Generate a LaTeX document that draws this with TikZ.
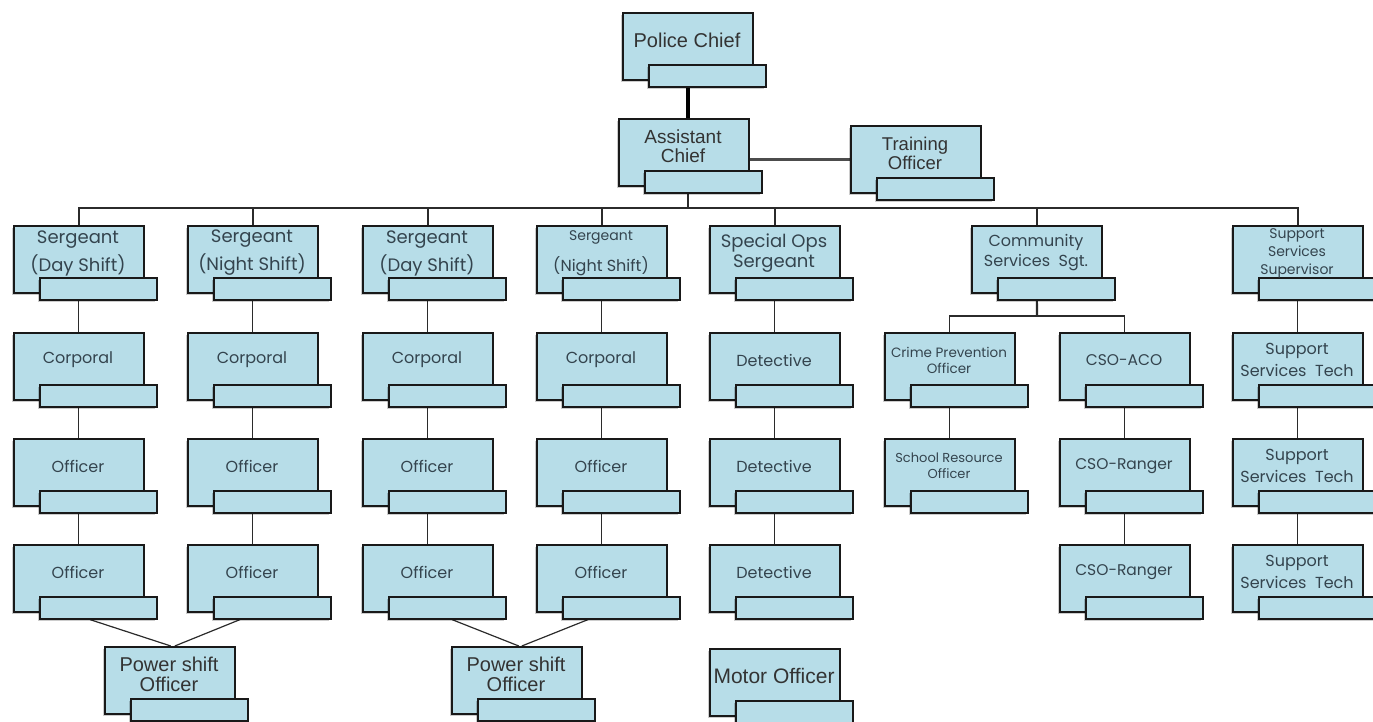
\documentclass[tikz,border=0pt]{standalone}
\usepackage{fontspec}
\newfontfamily\arialf{Liberation Sans}
\newfontfamily\popf{Poppins}
\usetikzlibrary{calc,backgrounds,shadows}
\definecolor{boxfill}{HTML}{B7DDE8}
\definecolor{txtc}{HTML}{34444E}
\definecolor{linec}{HTML}{2B2B2B}
\tikzset{
  mainbox/.style={draw=black!90, line width=1.6pt, fill=boxfill, minimum width=130pt, minimum height=67pt, inner sep=0pt,
    drop shadow={shadow xshift=-1.5pt, shadow yshift=-2pt, fill=black, opacity=0.2}},
  subbox/.style={draw=black!90, line width=1.6pt, fill=boxfill, minimum width=117pt, minimum height=22pt, inner sep=0pt,
    drop shadow={shadow xshift=-1.5pt, shadow yshift=-2pt, fill=black, opacity=0.2}},
  ar/.style 2 args={font={\arialf\fontsize{#1}{#2}\selectfont}, align=center, text=black!80, inner sep=0pt},
  pp/.style 2 args={font={\popf\fontsize{#1}{#2}\selectfont}, align=center, text=txtc, inner sep=0pt},
  conn/.style={draw=linec, line width=1.2pt},
  busline/.style={draw=linec, line width=2.2pt},
  chiefline/.style={draw=black, line width=3.5pt},
  sideline/.style={draw=black!70, line width=2.5pt},
}
\newcommand\obox[5]{%
  \node[mainbox, anchor=north west] (#1) at (#2,#3) {};
  \node[subbox, anchor=north west] (#1s) at ($(#1.north west)+(26,52)$) {};
  \node[#4] (#1t) at ($(#1.north west)+(65,28)$) {#5};
}
\begin{document}
\begin{tikzpicture}[x=1pt,y=-1pt]
\useasboundingbox (0,0) rectangle (1373,722);
% top
\obox{pc}{622}{12}{ar={20}{19}}{Police Chief}
\obox{ac}{618}{118}{ar={19}{19}}{Assistant\\Chief}
\obox{to}{850}{125}{ar={18.5}{19}}{Training\\Officer}
% row 1
\obox{sa}{13}{225}{pp={18}{28}}{Sergeant\\(Day Shift)}
\obox{sb}{187}{225}{pp={18}{28}}{Sergeant\\(Night Shift)}
\obox{sc}{362}{225}{pp={18}{28}}{Sergeant\\(Day Shift)}
\obox{sd}{536}{225}{pp={16}{31}}{{\fontsize{14}{14}\selectfont Sergeant}\\(Night Shift)}
\obox{so}{709}{225}{pp={18}{20}}{Special Ops\\Sergeant}
\obox{cs}{971}{225}{pp={16}{20}}{Community\\Services\ \ Sgt.}
\obox{ss}{1232}{225}{pp={14}{18}}{Support\\Services\\Supervisor}
% row 2
\obox{ca}{13}{332}{pp={16}{19}}{Corporal}
\obox{cb}{187}{332}{pp={16}{19}}{Corporal}
\obox{cc}{362}{332}{pp={16}{19}}{Corporal}
\obox{cd}{536}{332}{pp={16}{19}}{Corporal}
\obox{da}{709}{332}{pp={16}{19}}{Detective}
\obox{cp}{884}{332}{pp={13.5}{16}}{Crime Prevention\\Officer}
\obox{aco}{1059}{332}{pp={15.5}{19}}{CSO-ACO}
\obox{ta}{1232}{332}{pp={16}{22}}{Support\\Services\ \ Tech}
% row 3
\obox{oa}{13}{438}{pp={16}{19}}{Officer}
\obox{ob}{187}{438}{pp={16}{19}}{Officer}
\obox{oc}{362}{438}{pp={16}{19}}{Officer}
\obox{od}{536}{438}{pp={16}{19}}{Officer}
\obox{db}{709}{438}{pp={16}{19}}{Detective}
\obox{sro}{884}{438}{pp={13}{16}}{School Resource\\Officer}
\obox{ra}{1059}{438}{pp={15.5}{19}}{CSO-Ranger}
\obox{tb}{1232}{438}{pp={16}{22}}{Support\\Services\ \ Tech}
% row 4
\obox{pa}{13}{544}{pp={16}{19}}{Officer}
\obox{pb}{187}{544}{pp={16}{19}}{Officer}
\obox{pcc}{362}{544}{pp={16}{19}}{Officer}
\obox{pd}{536}{544}{pp={16}{19}}{Officer}
\obox{dc}{709}{544}{pp={16}{19}}{Detective}
\obox{rb}{1059}{544}{pp={15.5}{19}}{CSO-Ranger}
\obox{tc}{1232}{544}{pp={16}{22}}{Support\\Services\ \ Tech}
% row 5
\obox{psa}{104}{646}{ar={20}{20}}{Power shift\\Officer}
\obox{psb}{451}{646}{ar={20}{20}}{Power shift\\Officer}
\obox{mo}{709}{648}{ar={21}{20}}{Motor Officer}
% connectors
\coordinate (bus) at (688,208);
\coordinate (csbus) at (1037,316);
\begin{scope}[on background layer]
  \draw[chiefline] (pc.south) -- (pc.south |- ac.north);
  \draw[sideline] (to.west) -- (to.west -| ac.east);
  \draw[busline] (bus) -- (bus |- ac.south);
  \foreach \s in {sa,sb,sc,sd,so,cs,ss} \draw[busline] (bus) -| (\s.north);
  \foreach \a/\b in {sa/ca,ca/oa,oa/pa, sb/cb,cb/ob,ob/pb, sc/cc,cc/oc,oc/pcc, sd/cd,cd/od,od/pd,
                     so/da,da/db,db/dc, cp/sro, aco/ra,ra/rb, ss/ta,ta/tb,tb/tc}
    \draw[conn] (\a.south) -- (\b.north);
  \draw[busline] (cs.south) -- (csbus);
  \draw[conn] (cp.north) |- (csbus) -| (aco.north);
  \draw[conn] ([xshift=51pt]pas.south west) -- ([xshift=1pt]psa.north);
  \draw[conn] ([xshift=27pt]pbs.south west) -- ([xshift=5pt]psa.north);
  \draw[conn] ([xshift=64pt]pccs.south west) -- ([xshift=2pt]psb.north);
  \draw[conn] ([xshift=26pt]pds.south west) -- ([xshift=5pt]psb.north);
\end{scope}
\end{tikzpicture}
\end{document}
